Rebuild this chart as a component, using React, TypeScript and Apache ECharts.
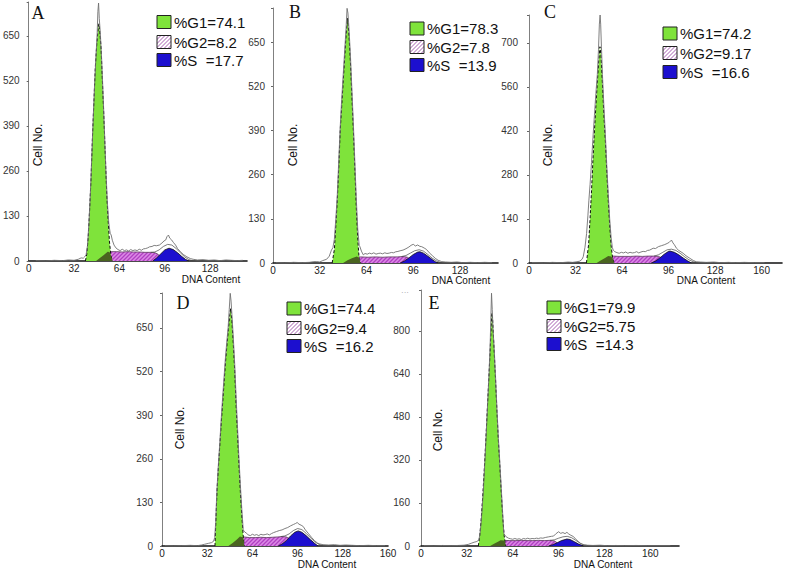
import React, { useEffect, useRef } from 'react';
import * as echarts from 'echarts';

// ---------- Panel A ----------
const A_G1 = [[40,0],[41,20],[42,70],[43,150],[44,240],[45,360],[46,460],[47,560],[48,625],[49,670],[49.5,685],[50,670],[51,620],[52,520],[53,420],[54,310],[55,200],[56,120],[57,55],[58,15],[59,0]];
const A_S = [[47,0],[50,8],[53,17],[56,26],[58,27],[62,27],[66,26],[70,27],[74,26],[78,26],[82,25],[86,25],[89,24],[91,20],[93,12],[95,0]];
const A_OV = [[47.5,0],[50,8],[53,17],[55.7,27],[57,26],[58,15],[59,0]];
const A_G2 = [[87.5,0],[90,8],[93,20],[96,32],[99,37],[102,33],[105,24],[108,13],[110.5,5],[113,0]];
const A_FIT = [[86,25],[89,26],[92,32],[95,42],[98,48],[101,46],[104,36],[107,24],[110,12],[113,4],[116,0]];
const A_RAW = [[5,1],[12,0],[18,2],[24,1],[28,3],[32,2],[35,5],[37,9],[38.5,8],[39.5,12],[40.5,18],[41.5,45],[42.5,110],[43.5,195],[44.5,300],[45.5,410],[46.5,510],[47.5,595],[48.3,655],[48.8,720],[49.3,745],[49.8,700],[50.5,660],[51.5,580],[52.5,480],[53.5,370],[54.5,260],[55.5,170],[56.5,110],[57.5,80],[58.2,75],[59,60],[60.2,46],[61.5,38],[63,33],[64.5,30],[66,34],[67.5,30],[69,32],[70.5,29],[72,33],[73.5,30],[75,32],[76.5,30],[78,34],[79.5,31],[81,35],[82.5,36],[84,38],[85.3,41],[87,42],[88.5,45],[90,44],[92.2,46],[94,52],[95.5,58],[96.7,61],[97.5,70],[98.6,75],[99.5,66],[100.8,61],[102,54],[103.6,46],[105,36],[107,27],[109,19],[111.6,12],[114,7],[116,5],[119,3],[123,4],[127,2],[131,3],[135,1],[139,3],[143,2],[147,1],[151,2]];

// ---------- Panel B ----------
const B_G1 = [[40.5,0],[42,40],[43,110],[44,185],[45,280],[46,390],[47,460],[48,530],[49,600],[50,670],[51,720],[52,670],[53,590],[54,490],[55,390],[56,280],[57,165],[58,70],[59,10],[60,0]];
const B_S = [[48,0],[51,8],[54,14],[57,18],[60,18],[65,17],[70,18],[75,17],[80,18],[85,18],[89,19],[92,17],[94,10],[96,0]];
const B_OV = [[48,0],[51,8],[54,14],[57.3,19],[58.5,17],[59.5,5],[60,0]];
const B_G2 = [[87,0],[90,6],[93,15],[96,25],[99,32],[100.6,33],[103,29],[106,20],[109,10],[111,4],[113,0]];
const B_FIT = [[88,19],[91,22],[94,29],[97,36],[100,39],[103,35],[106,25],[109,14],[112,6],[115,1]];
const B_RAW = [[2,1],[8,0],[14,2],[20,1],[25,2],[28,4],[30,4],[32,3],[34,7],[36.7,11],[38.5,20],[40,38],[41,45],[42,70],[43,130],[44,200],[45,300],[46,400],[47,480],[48,550],[49,620],[50,690],[50.7,749],[51.3,735],[52,690],[53,610],[54,510],[55,410],[56,300],[57,190],[58,100],[59,52],[59.5,48],[60.5,35],[61.8,24],[63,28],[64.5,26],[66,29],[67.5,27],[69,30],[70.5,26],[72,28],[73.5,29],[75,27],[76.5,30],[78,28],[79.5,29],[81,31],[82.5,30],[84,33],[85.5,34],[87,36],[89,38],[91,42],[93,47],[94.5,52],[96,55],[97.5,50],[99,53],[100.5,49],[101.8,48],[103.5,44],[105,40],[107,30],[109,22],[111,14],[113,8],[115.5,4],[118,3],[122,2],[126,3],[130,1],[135,2],[140,1],[145,2],[150,1]];

// ---------- Panel C ----------
const C_G1 = [[39.5,0],[41,60],[42,140],[43,230],[44,330],[45,420],[46,500],[47,575],[48,645],[48.8,688],[49.5,660],[50.5,570],[51.5,470],[52.5,390],[53.5,290],[54.5,200],[55.5,120],[56.5,55],[57.5,15],[58.5,0]];
const C_S = [[46,0],[49,7],[52,15],[55,21],[58,22],[62,21],[66,21],[70,21],[74,22],[78,21],[82,22],[86,22],[89,21],[91,17],[93,8],[95,0]];
const C_OV = [[46.5,0],[49,7],[52,15],[54.5,22],[56.5,21],[57.5,15],[58.5,0]];
const C_G2 = [[84,0],[87,6],[90,16],[93,28],[96,37],[97,38],[100,34],[103,26],[106,16],[109,7],[111.7,0]];
const C_FIT = [[86,22],[89,26],[92,34],[95,42],[98,44],[101,40],[104,31],[107,20],[110,10],[113,4],[116,1]];
const C_RAW = [[2,1],[10,0],[16,2],[22,1],[27,3],[30,2],[33,4],[35,6],[36.5,12],[37.3,20],[38.5,50],[39.6,94],[40.5,150],[41.2,200],[42,250],[43,320],[44,400],[45,470],[46,540],[47,600],[47.8,680],[48.4,760],[48.9,789],[49.3,760],[49.8,690],[50.5,600],[51.5,500],[52.5,410],[53.5,310],[54.5,220],[55.5,140],[56.5,80],[57.3,50],[57.9,41],[59,36],[60.5,33],[62,31],[63.5,34],[65,32],[66.5,35],[68,31],[69.5,34],[71,32],[72.5,33],[74,36],[75.5,32],[77,35],[78.5,37],[80,36],[81.5,40],[83,41],[85.4,47],[87,46],[89,52],[91,55],[93,58],[95,62],[96.5,66],[98,73],[99,64],[100,58],[101.4,47],[103,40],[106,31],[108,23],[110.6,15],[113,8],[115,4],[118,3],[122,2],[127,3],[132,1],[137,2],[142,1],[148,2],[155,1],[162,1]];

// ---------- Panel D ----------
const D_G1 = [[37.5,0],[38,60],[39,170],[40,240],[41,305],[42,370],[43,430],[44,490],[45,550],[46,600],[47,645],[48,690],[48.6,708],[49.5,670],[50.5,600],[51.5,520],[52.5,415],[53.5,330],[54.5,240],[55.5,160],[56.5,90],[57.5,30],[58.2,0]];
const D_S = [[47,0],[50,9],[53,19],[55.2,28],[58,27],[62,25],[66,25],[70,26],[74,25],[78,26],[82,27],[85,28],[88,27],[90,22],[92,12],[94,0]];
const D_OV = [[47,0],[50,9],[53,19],[55.2,28],[56.5,27],[57.5,26],[58.2,0]];
const D_G2 = [[82.3,0],[85,6],[88,16],[91,30],[94,41],[96.4,45],[99,41],[102,31],[105,19],[108,8],[110.5,0]];
const D_FIT = [[84,28],[87,30],[90,36],[93,46],[96,52],[99,49],[102,38],[105,25],[108,13],[111,5],[114,1]];
const D_RAW = [[2,1],[8,0],[14,1],[20,2],[25,1],[28,3],[30,5],[33,8],[35,10],[36.5,14],[37.3,25],[38,70],[38.8,160],[39.8,235],[40.8,300],[41.8,370],[42.8,435],[43.8,495],[44.8,555],[45.8,605],[46.8,650],[47.6,705],[48.3,753],[48.9,730],[49.5,690],[50.5,620],[51.5,540],[52.5,440],[53.5,350],[54.5,260],[55.5,180],[56.5,110],[57.5,48],[58.5,42],[59.9,38],[61,33],[62.5,31],[64,35],[65.5,32],[67,34],[68.5,31],[70,35],[71.5,33],[73,34],[74.5,36],[76,33],[77.5,37],[79,40],[81,43],[83,46],[85,48],[87,52],[89,55],[91,60],[93,64],[94.5,67],[95.7,70],[97,65],[98.5,62],[100,58],[101.5,48],[103.5,38],[106,25],[108,16],[110,9],[111.7,6],[114,4],[118,3],[122,4],[126,2],[130,3],[135,2],[140,1],[146,2],[152,1],[158,1]];

// ---------- Panel E ----------
const E_G1 = [[40,0],[41,40],[42,100],[43,180],[44,270],[45,370],[46,480],[47,590],[48,700],[49,820],[49.4,866],[50,840],[51,730],[52,620],[53,500],[54,390],[55,300],[56,200],[57,110],[58,40],[59,0]];
const E_S = [[48,0],[51,8],[54,17],[55.2,21],[58,21],[62,20],[66,20],[70,21],[74,20],[78,20],[82,21],[86,20],[90,21],[93,19],[95,12],[97,0]];
const E_OV = [[48.2,0],[51,8],[54,17],[55.5,21],[58,20],[58.7,12],[59,0]];
const E_G2 = [[89,0],[92,5],[95,12],[98,20],[101.8,26],[104,24],[107,16],[110,7],[113.4,0]];
const E_FIT = [[90,21],[93,23],[96,29],[99,34],[102,36],[105,31],[108,21],[111,10],[114,4],[117,1]];
const E_RAW = [[2,1],[9,0],[15,2],[21,1],[26,2],[30,3],[33,6],[35,10],[37,14],[38.5,16],[39.5,18],[40.5,25],[41.5,60],[42.5,125],[43.5,205],[44.5,310],[45.5,415],[46.5,530],[47.5,645],[48.3,760],[48.8,860],[49.2,940],[49.7,880],[50.3,800],[51,740],[52,630],[53,510],[54,400],[55,310],[56,215],[57,120],[57.5,70],[57.8,47],[59,36],[61,29],[62.5,27],[64,25],[65.5,28],[67,25],[68.5,27],[70,24],[71.5,28],[73,26],[74.5,29],[76,26],[77.5,28],[79,27],[80.5,29],[82,28],[83.5,30],[85,29],[87,32],[89,34],[91,36],[92.5,37],[94,45],[96,53],[97.5,47],[99,50],[100.5,46],[101.8,51],[103,45],[104.5,40],[106.4,35],[108,25],[110,16],[111.5,9],[113.4,4],[116,3],[120,2],[125,3],[130,1],[136,2],[142,1],[150,2],[158,1],[166,1],[174,1]];

// ---------- Labels ----------
const LETTERS = ['A', 'B', 'C', 'D', 'E'];
const G1_PCT = ['74.1', '78.3', '74.2', '74.4', '79.9'];
const G2_PCT = ['8.2', '7.8', '9.17', '9.4', '5.75'];
const S_PCT = ['17.7', '13.9', '16.6', '16.2', '14.3'];
const X_TICK_STEP = 32;
const X_MAX = [154, 154, 174, 160, 180];
const Y_STEP = [130, 130, 140, 130, 160];
const Y_MAX = [748, 750, 789, 754, 952];

// layout (pixels)
const GRIDS = [
  { left: 22, top: 2, width: 225, height: 259 },
  { left: 273, top: 8, width: 225, height: 255 },
  { left: 529, top: 15, width: 253, height: 248 },
  { left: 162, top: 293, width: 226, height: 253 },
  { left: 421, top: 290, width: 258, height: 256 },
];
const Y_LABEL_MARGIN = [9, 8, 11, 9, 11];
const LETTER_POS = [[38, 12.5], [295, 11.5], [550, 11.7], [183, 302.5], [434, 302.5]];
const LEGEND_POS = [
  { x: 157, rows: [22, 42, 60] },
  { x: 410, rows: [28.5, 47, 65] },
  { x: 663, rows: [33.5, 53, 72] },
  { x: 287, rows: [308.5, 328, 346] },
  { x: 547, rows: [307.5, 326, 344] },
];
const CELL_POS = [[38, 145], [293, 145], [548, 145], [180, 428], [438, 430]];
const DNA_POS = [[211, 279.5], [461, 280.5], [706, 280.5], [327, 564], [603, 564]];

const PANEL_DATA = [
  [A_G1, A_S, A_OV, A_G2, A_FIT, A_RAW],
  [B_G1, B_S, B_OV, B_G2, B_FIT, B_RAW],
  [C_G1, C_S, C_OV, C_G2, C_FIT, C_RAW],
  [D_G1, D_S, D_OV, D_G2, D_FIT, D_RAW],
  [E_G1, E_S, E_OV, E_G2, E_FIT, E_RAW],
];

const GREEN = '#7fe33b';
const BLUE = '#1c0fcf';
const OLIVE = '#4a6420';

function makeHatch(bg: string, fg: string, size: number, lw: number) {
  const c = document.createElement('canvas');
  c.width = size;
  c.height = size;
  const ctx = c.getContext('2d') as CanvasRenderingContext2D;
  ctx.fillStyle = bg;
  ctx.fillRect(0, 0, size, size);
  ctx.strokeStyle = fg;
  ctx.lineWidth = lw;
  ctx.beginPath();
  ctx.moveTo(0, size);
  ctx.lineTo(size, 0);
  ctx.moveTo(-size / 2, size / 2);
  ctx.lineTo(size / 2, -size / 2);
  ctx.moveTo(size / 2, size * 1.5);
  ctx.lineTo(size * 1.5, size / 2);
  ctx.stroke();
  return { image: c, repeat: 'repeat', imageWidth: size, imageHeight: size };
}

export default function App() {
  const ref = useRef<HTMLDivElement>(null);
  useEffect(() => {
    if (!ref.current) return;
    const chart = echarts.init(ref.current, null, { renderer: 'svg' });
    const pinkFill = makeHatch('#dc8ae6', '#b040c2', 4, 1.3);
    const legendHatch = makeHatch('#ffffff', '#9a4aa8', 4, 0.9);

    const xAxis: any[] = [];
    const yAxis: any[] = [];
    const series: any[] = [];
    const graphic: any[] = [];

    PANEL_DATA.forEach((pd, i) => {
      const [g1, s, ov, g2, fit, raw] = pd;
      xAxis.push({
        type: 'value', gridIndex: i, min: 0, max: X_MAX[i], interval: X_TICK_STEP,
        axisLine: { show: true, onZero: false, lineStyle: { color: '#111', width: 1.6 } },
        axisTick: { show: false },
        splitLine: { show: false },
        axisLabel: {
          fontSize: 10, color: '#222', margin: 2, fontFamily: 'Arial',
          formatter: (v: number) => (v % X_TICK_STEP === 0 ? String(v) : ''),
        },
      });
      yAxis.push({
        type: 'value', gridIndex: i, min: 0, max: Y_MAX[i], interval: Y_STEP[i],
        axisLine: { show: true, onZero: false, lineStyle: { color: '#808080', width: 1 } },
        axisTick: { show: true, length: 2, lineStyle: { color: '#666' } },
        splitLine: { show: false },
        axisLabel: {
          fontSize: 10, color: '#333', margin: Y_LABEL_MARGIN[i], fontFamily: 'Arial',
          formatter: (v: number) => (v % Y_STEP[i] === 0 ? String(v) : ''),
        },
      });
      const base = { type: 'line', xAxisIndex: i, yAxisIndex: i, symbol: 'none', showSymbol: false, silent: true, animation: false };
      series.push({ ...base, data: s, z: 2, lineStyle: { color: '#5a3a5a', width: 0.8 }, areaStyle: { color: pinkFill, opacity: 1 } });
      series.push({ ...base, data: g1, z: 3, lineStyle: { color: '#111', width: 1, type: [3, 2] }, areaStyle: { color: GREEN, opacity: 1 } });
      series.push({ ...base, data: ov, z: 4, lineStyle: { width: 0 }, areaStyle: { color: OLIVE, opacity: 1 } });
      series.push({ ...base, data: g2, z: 4, lineStyle: { color: '#111', width: 0.8 }, areaStyle: { color: BLUE, opacity: 1 } });
      series.push({ ...base, data: fit, z: 5, lineStyle: { color: '#444', width: 0.7 } });
      series.push({ ...base, data: raw, z: 6, lineStyle: { color: '#707070', width: 0.9 } });

      graphic.push({
        type: 'text', x: LETTER_POS[i][0], y: LETTER_POS[i][1], z: 10,
        style: { text: LETTERS[i], fontFamily: '"Liberation Serif", "Times New Roman", serif', fontSize: 18, fill: '#111', align: 'center', verticalAlign: 'middle' },
      });
      const lg = LEGEND_POS[i];
      const boxFills = [GREEN, legendHatch, BLUE];
      const texts = ['%G1=' + G1_PCT[i], '%G2=' + G2_PCT[i], '%S\u00a0 =' + S_PCT[i]];
      lg.rows.forEach((ry, k) => {
        graphic.push({
          type: 'rect', x: lg.x, y: ry - 6.5, z: 10,
          shape: { width: 14, height: 13 },
          style: { fill: boxFills[k], stroke: '#222', lineWidth: 1 },
        });
        graphic.push({
          type: 'text', x: lg.x + 17, y: ry, z: 10,
          style: { text: texts[k], fontFamily: 'Arial', fontSize: 15, fill: '#111', align: 'left', verticalAlign: 'middle' },
        });
      });
      graphic.push({
        type: 'text', x: CELL_POS[i][0], y: CELL_POS[i][1], rotation: Math.PI / 2, z: 10,
        style: { text: 'Cell No.', fontFamily: 'Arial', fontSize: 12, fill: '#111', align: 'center', verticalAlign: 'middle' },
      });
      graphic.push({
        type: 'text', x: DNA_POS[i][0], y: DNA_POS[i][1], z: 10,
        style: { text: 'DNA Content', fontFamily: 'Arial', fontSize: 10, fill: '#111', align: 'center', verticalAlign: 'middle' },
      });
    });

    graphic.push({
      type: 'text', x: 405, y: 292, z: 10,
      style: { text: '···', fontFamily: 'Arial', fontSize: 8, fill: '#999', align: 'center', verticalAlign: 'middle' },
    });

    chart.setOption({
      animation: false,
      textStyle: { fontFamily: 'Arial' },
      grid: GRIDS.map((g) => ({ ...g, containLabel: false })),
      xAxis,
      yAxis,
      series,
      graphic,
    });
    return () => chart.dispose();
  }, []);
  return <div ref={ref} style={{ position: 'absolute', left: 0, top: 0, width: 785, height: 568, background: '#fff' }} />;
}
